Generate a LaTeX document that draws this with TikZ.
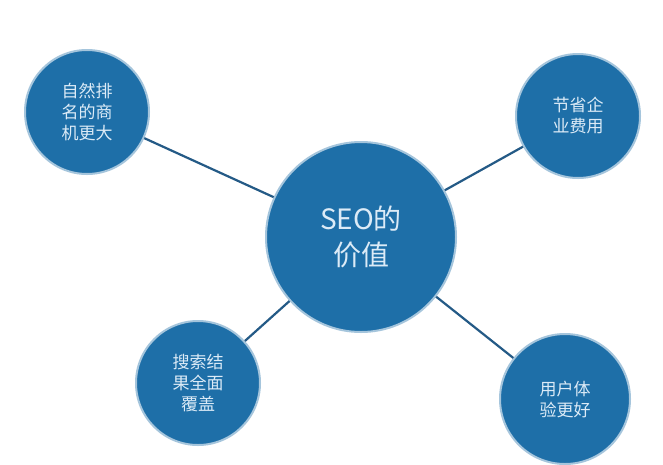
\documentclass[tikz,border=0pt]{standalone}
\usepackage{fontspec}
\newfontfamily\cjk{Noto Sans CJK SC}
\begin{document}
\begin{tikzpicture}[x=1pt,y=-1pt,
  bub/.style={circle,fill=bubfill,draw=bubfill!40,line width=2pt,text=bubtext,align=center,inner sep=0pt,font=\cjk\fontsize{17}{21}\selectfont},
  link/.style={draw=linkc,line width=2.2pt}]
\definecolor{bubfill}{HTML}{1E6FA8}
\definecolor{bubtext}{HTML}{DCEBF7}
\definecolor{linkc}{HTML}{245A86}
\useasboundingbox (0,0) rectangle (663,464);
\fill[white] (0,0) rectangle (663,464);
\begin{scope}
\clip (0,0) rectangle (663,464);
\node[bub,minimum size=190pt,font=\cjk\fontsize{28}{36}\selectfont] (c) at (361,237) {SEO的\\价值};
\node[bub,minimum size=124pt] (tl) at (87,112) {自然排\\名的商\\机更大};
\node[bub,minimum size=124pt] (tr) at (578,116) {节省企\\业费用};
\node[bub,minimum size=124pt] (bl) at (198,383) {搜索结\\果全面\\覆盖};
\node[bub,minimum size=130pt] (br) at (565,399) {用户体\\验更好};
\begin{scope}[on background layer/.style={}]
\end{scope}
\end{scope}
\path[link] (c) -- (tl) (c) -- (tr) (c) -- (bl) (c) -- (br);
\end{tikzpicture}
\end{document}
